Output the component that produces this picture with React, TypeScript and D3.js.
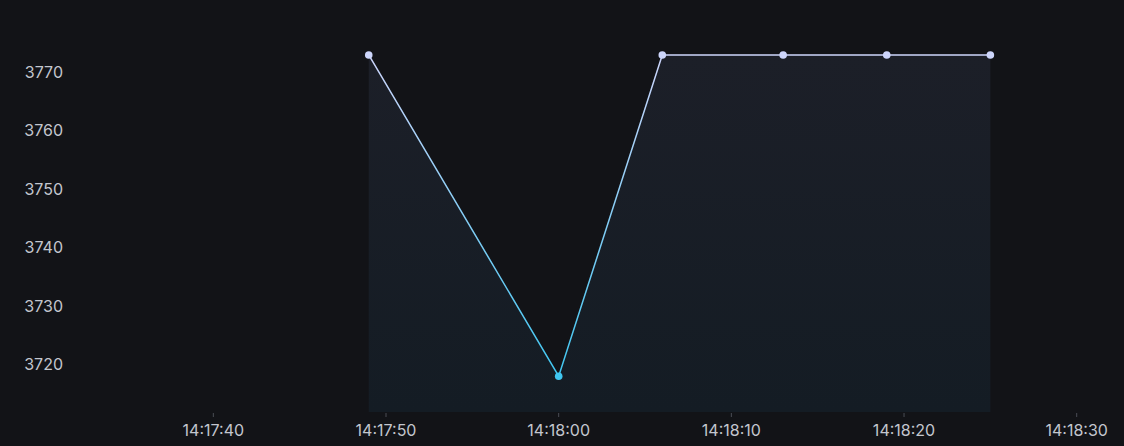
import { useEffect, useRef } from 'react'
import * as d3 from 'd3'

// seconds after 14:17:00
const pointSeconds = [49, 60, 66, 73, 79, 85]
const pointValues = [3773, 3718, 3773, 3773, 3773, 3773]
const yTicks = [3720, 3730, 3740, 3750, 3760, 3770]
const xTickSeconds = [40, 50, 60, 70, 80, 90]

const base = new Date(2024, 0, 1, 14, 17, 0)
const toDate = (s: number) => new Date(base.getTime() + s * 1000)

export default function App() {
  const svgRef = useRef<SVGSVGElement>(null)

  useEffect(() => {
    if (!svgRef.current) return
    const svg = d3.select(svgRef.current)
    svg.selectAll('*').remove()

    const width = 1124
    const height = 446
    const plotBottom = 412

    svg.attr('width', width).attr('height', height)
    svg.append('rect').attr('width', width).attr('height', height).attr('fill', '#121317')

    const x = d3.scaleTime()
      .domain([toDate(35), toDate(90)])
      .range([127, 1076.7])
    const y = d3.scaleLinear()
      .domain([3710, 3780])
      .range([422.9, 14.1])

    const data = pointSeconds.map((s, i) => ({ t: toDate(s), v: pointValues[i] }))

    const defs = svg.append('defs')
    const lineGrad = defs.append('linearGradient')
      .attr('id', 'lineGrad')
      .attr('gradientUnits', 'userSpaceOnUse')
      .attr('x1', 0).attr('x2', 0)
      .attr('y1', y(3773)).attr('y2', y(3718))
    lineGrad.append('stop').attr('offset', '0%').attr('stop-color', '#cdd5fb')
    lineGrad.append('stop').attr('offset', '100%').attr('stop-color', '#3fc6f0')

    const areaGrad = defs.append('linearGradient')
      .attr('id', 'areaGrad')
      .attr('gradientUnits', 'userSpaceOnUse')
      .attr('x1', 0).attr('x2', 0)
      .attr('y1', y(3773)).attr('y2', plotBottom)
    areaGrad.append('stop').attr('offset', '0%').attr('stop-color', '#1c1f28')
    areaGrad.append('stop').attr('offset', '100%').attr('stop-color', '#141c24')

    const area = d3.area<{ t: Date; v: number }>()
      .x(d => x(d.t))
      .y0(plotBottom)
      .y1(d => y(d.v))
    svg.append('path').datum(data).attr('d', area).attr('fill', 'url(#areaGrad)')

    const line = d3.line<{ t: Date; v: number }>()
      .x(d => x(d.t))
      .y(d => y(d.v))
    svg.append('path').datum(data)
      .attr('d', line)
      .attr('fill', 'none')
      .attr('stroke', 'url(#lineGrad)')
      .attr('stroke-width', 1.5)

    svg.selectAll('.pt')
      .data(data)
      .enter()
      .append('circle')
      .attr('cx', d => x(d.t))
      .attr('cy', d => y(d.v))
      .attr('r', 3.8)
      .attr('fill', 'url(#lineGrad)')

    // y labels
    svg.selectAll('.ylab')
      .data(yTicks)
      .enter()
      .append('text')
      .attr('x', 63)
      .attr('y', d => y(d) + 5.5)
      .attr('text-anchor', 'end')
      .attr('fill', '#c3c6ce')
      .style('font-family', 'Inter, sans-serif')
      .style('font-size', '16px')
      .text(d => String(d))

    // x ticks
    const fmt = d3.timeFormat('%H:%M:%S')
    const xt = svg.selectAll('.xt')
      .data(xTickSeconds.map(toDate))
      .enter()
      .append('g')
      .attr('transform', d => `translate(${x(d)},0)`)
    xt.append('line')
      .attr('y1', plotBottom + 1)
      .attr('y2', plotBottom + 5)
      .attr('stroke', '#4a4d55')
      .attr('stroke-width', 1)
    xt.append('text')
      .attr('y', 436)
      .attr('text-anchor', 'middle')
      .attr('fill', '#c3c6ce')
      .style('font-family', 'Inter, sans-serif')
      .style('font-size', '16px')
      .text(d => fmt(d))
  }, [])

  return (
    <div style={{ position: 'fixed', left: 0, top: 0 }}>
      <svg ref={svgRef} style={{ display: 'block' }} />
    </div>
  )
}
